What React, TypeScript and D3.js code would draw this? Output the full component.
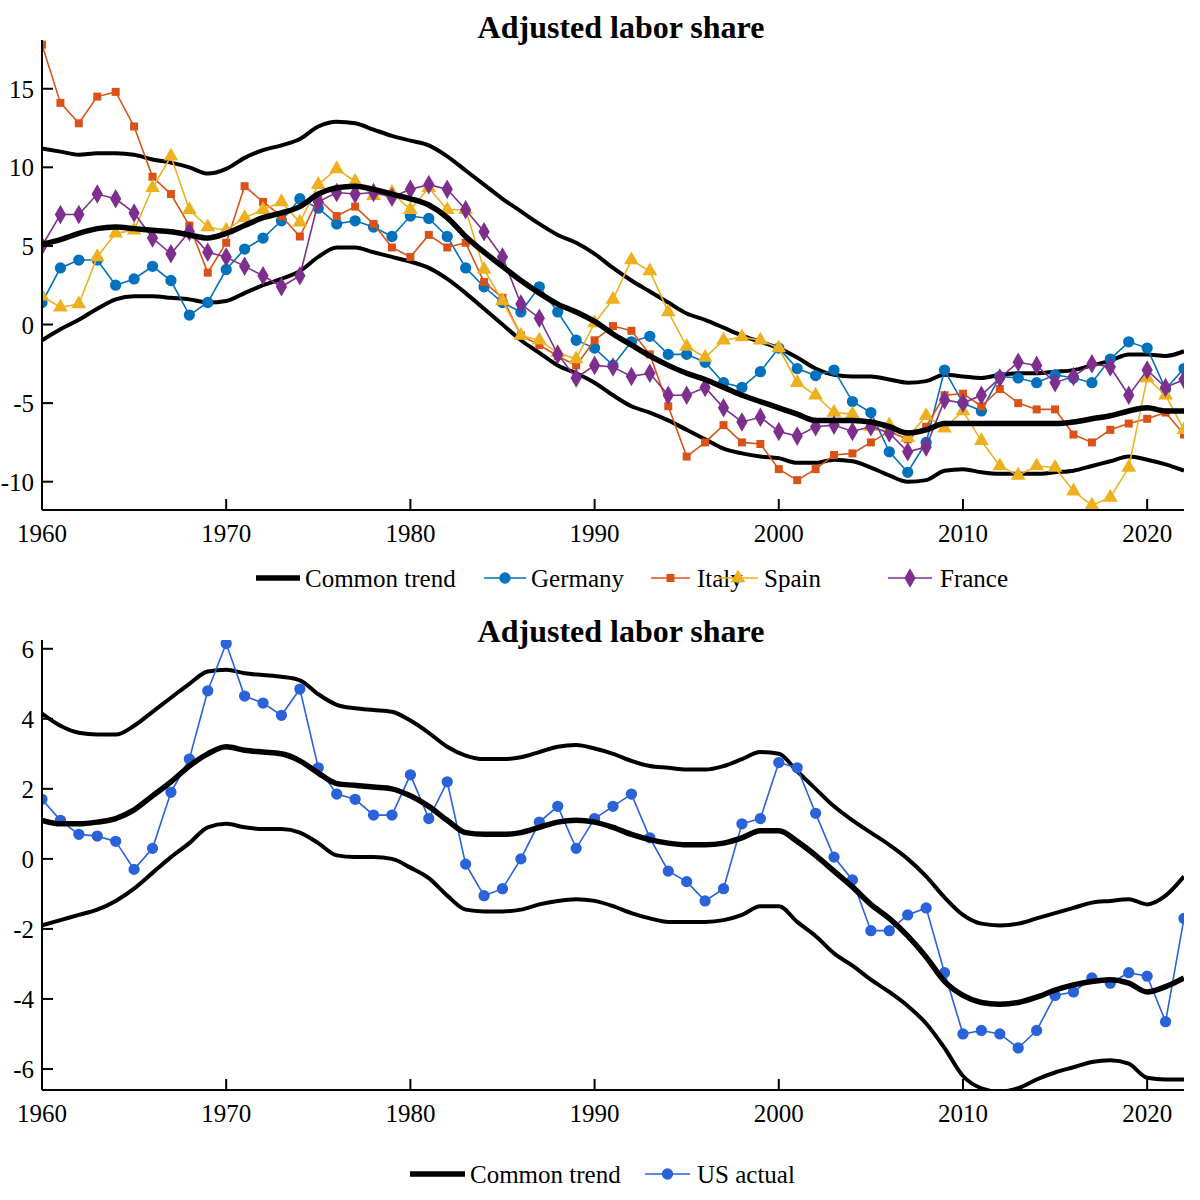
import { useEffect, useRef } from 'react';
import * as d3 from 'd3';

const years = d3.range(1960, 2023);

// Euro area panel
const germany = [1.4, 3.6, 4.1, 4.1, 2.5, 2.9, 3.7, 2.8, 0.6, 1.4, 3.5, 4.8, 5.5, 6.6, 8.0, 7.4, 6.4, 6.6, 6.2, 5.6,
  6.9, 6.75, 5.6, 3.6, 2.4, 1.4, 0.8, 2.4, 0.8, -1.0, -1.5, -2.6, -1.1, -0.75, -1.9, -1.9, -2.4, -3.7, -4.0, -3.0,
  -1.5, -2.8, -3.25, -2.9, -4.9, -5.6, -8.1, -9.4, -7.5, -2.9, -5.0, -5.5, -3.3, -3.4, -3.7, -3.2, -3.4, -3.7, -2.2, -1.1, -1.5, -4.1, -2.8];
const italy = [17.8, 14.1, 12.8, 14.5, 14.8, 12.6, 9.4, 8.3, 6.3, 3.3, 5.2, 8.8, 7.8, 6.9, 5.6, 8.0, 6.9, 7.5, 6.4, 4.9,
  4.3, 5.7, 4.9, 5.2, 2.7, 1.7, -0.7, -1.3, -2.0, -2.6, -1.0, -0.1, -0.4, -1.9, -5.2, -8.4, -7.5, -6.4, -7.5, -7.6,
  -9.2, -9.9, -9.2, -8.3, -8.2, -7.5, -6.8, -7.3, -6.5, -4.5, -4.4, -5.2, -4.1, -5.0, -5.4, -5.4, -7.0, -7.5, -6.7, -6.3, -6.0, -5.6, -7.0];
const spain = [1.8, 1.1, 1.3, 4.3, 5.8, 6.0, 8.7, 10.7, 7.3, 6.2, 6.0, 6.8, 7.3, 7.8, 6.5, 8.9, 9.9, 9.1, 8.2, 8.4,
  7.3, 8.7, 7.3, 7.3, 3.5, 1.5, -0.7, -1.0, -1.8, -2.2, 0.1, 1.6, 4.1, 3.4, 0.8, -1.4, -2.1, -1.0, -0.8, -1.0,
  -1.5, -3.7, -4.5, -5.6, -5.7, -6.5, -6.4, -7.2, -5.8, -6.6, -5.5, -7.4, -9.0, -9.6, -9.0, -9.1, -10.6, -11.5, -11.0, -9.1, -3.4, -4.5, -6.7];
const france = [5.0, 7.0, 7.0, 8.3, 8.0, 7.1, 5.5, 4.5, 5.9, 4.6, 4.3, 3.7, 3.1, 2.4, 3.1, 7.8, 8.4, 8.3, 8.4, 8.1,
  8.6, 8.9, 8.6, 7.3, 5.9, 4.3, 1.3, 0.4, -1.9, -3.4, -2.6, -2.7, -3.3, -3.1, -4.5, -4.5, -4.0, -5.3, -6.2, -5.9,
  -6.8, -7.1, -6.5, -6.4, -6.8, -6.5, -6.9, -8.1, -7.8, -4.8, -5.0, -4.5, -3.4, -2.4, -2.6, -3.7, -3.3, -2.5, -2.7, -4.5, -2.9, -4.0, -3.5];
const euTrend = [5.1, 5.4, 5.8, 6.1, 6.2, 6.1, 6.0, 5.9, 5.7, 5.5, 5.8, 6.3, 6.8, 7.1, 7.5, 8.3, 8.7, 8.8, 8.6, 8.3,
  8.0, 7.6, 6.8, 5.6, 4.6, 3.7, 2.8, 2.0, 1.3, 0.8, 0.2, -0.6, -1.3, -2.0, -2.6, -3.1, -3.5, -4.0, -4.5, -4.9,
  -5.3, -5.7, -6.1, -6.1, -6.1, -6.2, -6.5, -6.9, -6.7, -6.3, -6.3, -6.3, -6.3, -6.3, -6.3, -6.3, -6.2, -6.0, -5.8, -5.5, -5.3, -5.5, -5.5];
const euUpper = [11.2, 11.0, 10.8, 10.9, 10.9, 10.8, 10.5, 10.3, 10.0, 9.6, 9.9, 10.6, 11.1, 11.4, 11.8, 12.6, 12.9, 12.8, 12.4, 12.0,
  11.7, 11.4, 10.7, 9.8, 8.9, 8.0, 7.2, 6.4, 5.7, 5.2, 4.5, 3.6, 2.8, 2.1, 1.4, 0.7, 0.3, -0.2, -0.7, -1.1,
  -1.5, -2.1, -2.8, -3.2, -3.3, -3.3, -3.5, -3.7, -3.6, -3.2, -3.3, -3.4, -3.2, -3.1, -3.1, -3.0, -2.9, -2.6, -2.3, -1.9, -1.9, -2.0, -1.7];
const euLower = [-1.0, -0.3, 0.3, 1.0, 1.6, 1.8, 1.8, 1.7, 1.6, 1.4, 1.5, 2.0, 2.5, 2.9, 3.4, 4.3, 4.9, 4.9, 4.6, 4.3,
  4.0, 3.6, 2.9, 2.0, 1.0, 0.0, -1.0, -1.8, -2.6, -3.1, -3.7, -4.5, -5.2, -5.6, -6.1, -6.7, -7.3, -7.9, -8.2, -8.4,
  -8.5, -8.8, -8.8, -8.6, -8.7, -9.1, -9.6, -10.0, -9.9, -9.3, -9.2, -9.4, -9.5, -9.5, -9.5, -9.4, -9.3, -9.0, -8.7, -8.4, -8.6, -8.9, -9.3];

// US panel
const usActual = [1.7, 1.1, 0.7, 0.65, 0.5, -0.3, 0.3, 1.9, 2.85, 4.8, 6.15, 4.65, 4.45, 4.1, 4.85, 2.6, 1.85, 1.7, 1.25, 1.25,
  2.4, 1.15, 2.2, -0.15, -1.05, -0.85, 0.0, 1.05, 1.5, 0.3, 1.15, 1.5, 1.85, 0.6, -0.35, -0.65, -1.2, -0.85, 1.0, 1.15,
  2.75, 2.6, 1.3, 0.05, -0.6, -2.05, -2.05, -1.6, -1.4, -3.25, -5.0, -4.9, -5.0, -5.4, -4.9, -3.9, -3.8, -3.4, -3.55, -3.25, -3.35, -4.65, -1.7];
const usTrend = [1.1, 1.0, 1.0, 1.05, 1.15, 1.4, 1.8, 2.2, 2.65, 3.0, 3.2, 3.1, 3.05, 3.0, 2.8, 2.45, 2.15, 2.1, 2.05, 2.0,
  1.8, 1.5, 1.1, 0.75, 0.7, 0.7, 0.75, 0.9, 1.05, 1.1, 1.05, 0.9, 0.7, 0.55, 0.45, 0.4, 0.4, 0.45, 0.6, 0.8,
  0.8, 0.5, 0.1, -0.35, -0.8, -1.3, -1.7, -2.2, -2.8, -3.5, -3.9, -4.1, -4.15, -4.1, -3.95, -3.75, -3.6, -3.5, -3.45, -3.55, -3.8, -3.65, -3.4];
const usUpper = [4.15, 3.8, 3.6, 3.55, 3.55, 3.8, 4.2, 4.6, 5.0, 5.35, 5.4, 5.3, 5.25, 5.2, 5.1, 4.7, 4.4, 4.3, 4.25, 4.2,
  3.95, 3.6, 3.2, 2.95, 2.85, 2.85, 2.9, 3.05, 3.2, 3.25, 3.15, 3.0, 2.8, 2.65, 2.6, 2.55, 2.55, 2.65, 2.85, 3.05,
  3.0, 2.5, 2.0, 1.5, 1.1, 0.75, 0.4, 0.0, -0.5, -1.1, -1.6, -1.85, -1.9, -1.85, -1.7, -1.55, -1.4, -1.25, -1.2, -1.15, -1.3, -1.05, -0.5];
const usLower = [-1.9, -1.75, -1.6, -1.45, -1.2, -0.85, -0.4, 0.05, 0.45, 0.9, 1.0, 0.9, 0.85, 0.85, 0.75, 0.45, 0.1, 0.05, 0.05, 0.0,
  -0.25, -0.55, -1.05, -1.45, -1.5, -1.5, -1.45, -1.3, -1.2, -1.15, -1.2, -1.35, -1.55, -1.7, -1.8, -1.8, -1.8, -1.75, -1.6, -1.35,
  -1.35, -1.8, -2.2, -2.7, -3.05, -3.45, -3.8, -4.2, -4.7, -5.4, -6.2, -6.55, -6.65, -6.55, -6.3, -6.1, -5.95, -5.8, -5.75, -5.85, -6.25, -6.3, -6.3];

const xTicks = [1960, 1970, 1980, 1990, 2000, 2010, 2020];
const topYTicks = [-10, -5, 0, 5, 10, 15];
const bottomYTicks = [-6, -4, -2, 0, 2, 4, 6];

type Marker = 'circle' | 'square' | 'triangle' | 'diamond';
interface Series { name: string; values: number[]; color: string; marker: Marker; }

const FONT = '"Liberation Serif", "DejaVu Serif", serif';

const symbolOf = (m: Marker) =>
  m === 'circle' ? d3.symbolCircle : m === 'square' ? d3.symbolSquare : m === 'triangle' ? d3.symbolTriangle : d3.symbolDiamond;
const sizeOf = (m: Marker) => (m === 'circle' ? 100 : m === 'square' ? 64 : m === 'triangle' ? 95 : 110);

function drawPanel(
  svg: d3.Selection<SVGSVGElement, unknown, null, undefined>,
  opts: {
    id: string; top: number; bottom: number; yDomain: [number, number]; yTicks: number[];
    title: string; titleY: number; trend: number[]; upper: number[]; lower: number[];
    series: Series[]; legendY: number; legendX: [number, number, number][]; // [lineStart, lineEnd, textX]
  }
) {
  const left = 42, right = 1184;
  const x = d3.scaleLinear().domain([1960, 2022]).range([left, right]);
  const y = d3.scaleLinear().domain(opts.yDomain).range([opts.bottom, opts.top]);
  const g = svg.append('g');

  g.append('clipPath').attr('id', opts.id).append('rect')
    .attr('x', left).attr('y', opts.top).attr('width', right - left).attr('height', opts.bottom - opts.top);

  const plot = g.append('g').attr('clip-path', `url(#${opts.id})`);
  const smooth = d3.line<number>().x((_, i) => x(years[i])).y((d) => y(d)).curve(d3.curveMonotoneX);
  const straight = d3.line<number>().x((_, i) => x(years[i])).y((d) => y(d));

  [opts.upper, opts.lower].forEach((band) => {
    plot.append('path').attr('d', smooth(band)).attr('fill', 'none').attr('stroke', '#000').attr('stroke-width', 4);
  });

  opts.series.forEach((s) => {
    plot.append('path').attr('d', straight(s.values)).attr('fill', 'none').attr('stroke', s.color).attr('stroke-width', 1.6);
    plot.selectAll(null).data(s.values).join('path')
      .attr('transform', (d, i) => `translate(${x(years[i])},${y(d)})`)
      .attr('d', d3.symbol().type(symbolOf(s.marker)).size(sizeOf(s.marker))())
      .attr('fill', s.color);
  });

  plot.append('path').attr('d', smooth(opts.trend)).attr('fill', 'none').attr('stroke', '#000').attr('stroke-width', 5.5);

  // axes (ticks pointing inward)
  const ax = g.append('g').attr('font-family', FONT).attr('font-size', 25).attr('fill', '#000');
  ax.append('line').attr('x1', left).attr('x2', left).attr('y1', opts.top).attr('y2', opts.bottom).attr('stroke', '#000').attr('stroke-width', 2);
  ax.append('line').attr('x1', left).attr('x2', right).attr('y1', opts.bottom).attr('y2', opts.bottom).attr('stroke', '#000').attr('stroke-width', 2);
  xTicks.forEach((t) => {
    ax.append('line').attr('x1', x(t)).attr('x2', x(t)).attr('y1', opts.bottom).attr('y2', opts.bottom - 11).attr('stroke', '#000').attr('stroke-width', 2);
    ax.append('text').attr('x', x(t)).attr('y', opts.bottom + 32).attr('text-anchor', 'middle').text(t);
  });
  opts.yTicks.forEach((t) => {
    ax.append('line').attr('x1', left).attr('x2', left + 11).attr('y1', y(t)).attr('y2', y(t)).attr('stroke', '#000').attr('stroke-width', 2);
    ax.append('text').attr('x', left - 8).attr('y', y(t) + 9).attr('text-anchor', 'end').text(t);
  });

  g.append('text').attr('x', 621).attr('y', opts.titleY).attr('text-anchor', 'middle')
    .attr('font-family', FONT).attr('font-size', 32).attr('font-weight', 'bold').text(opts.title);

  // legend
  const lg = g.append('g').attr('font-family', FONT).attr('font-size', 25);
  const entries: (Series | null)[] = [null, ...opts.series];
  entries.forEach((s, i) => {
    const [x0, x1, tx] = opts.legendX[i];
    const ly = opts.legendY;
    lg.append('line').attr('x1', x0).attr('x2', x1).attr('y1', ly).attr('y2', ly)
      .attr('stroke', s ? s.color : '#000').attr('stroke-width', s ? 1.6 : 5.5);
    if (s) {
      lg.append('path').attr('transform', `translate(${(x0 + x1) / 2},${ly})`)
        .attr('d', d3.symbol().type(symbolOf(s.marker)).size(sizeOf(s.marker))()).attr('fill', s.color);
    }
    lg.append('text').attr('x', tx).attr('y', ly + 9).text(s ? s.name : 'Common trend');
  });
}

export default function App() {
  const ref = useRef<SVGSVGElement>(null);

  useEffect(() => {
    if (!ref.current) return;
    const svg = d3.select(ref.current);
    svg.selectAll('*').remove();

    drawPanel(svg, {
      id: 'clipTop', top: 40, bottom: 510, yDomain: [-11.8, 18.1], yTicks: topYTicks,
      title: 'Adjusted labor share', titleY: 38, trend: euTrend, upper: euUpper, lower: euLower,
      series: [
        { name: 'Germany', values: germany, color: '#0072BD', marker: 'circle' },
        { name: 'Italy', values: italy, color: '#D95319', marker: 'square' },
        { name: 'Spain', values: spain, color: '#EDB120', marker: 'triangle' },
        { name: 'France', values: france, color: '#7E2F8E', marker: 'diamond' },
      ],
      legendY: 578,
      legendX: [[256, 300, 305], [484, 526, 531], [651, 690, 697], [718, 758, 764], [888, 932, 940]],
    });

    drawPanel(svg, {
      id: 'clipBottom', top: 640, bottom: 1090, yDomain: [-6.6, 6.25], yTicks: bottomYTicks,
      title: 'Adjusted labor share', titleY: 642, trend: usTrend, upper: usUpper, lower: usLower,
      series: [{ name: 'US actual', values: usActual, color: '#2962D9', marker: 'circle' }],
      legendY: 1174,
      legendX: [[410, 465, 470], [645, 690, 697]],
    });
  }, []);

  return (
    <svg ref={ref} width={1200} height={1200}
      style={{ position: 'absolute', left: 0, top: 0, background: '#fff', display: 'block' }} />
  );
}
